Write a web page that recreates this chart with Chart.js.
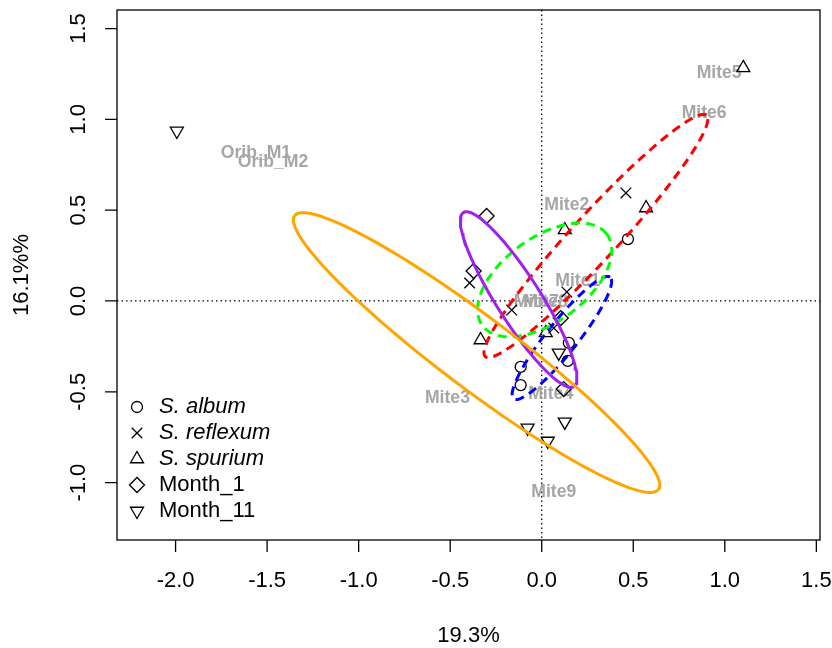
<!DOCTYPE html>
<html>
<head>
<meta charset="utf-8">
<script src="https://cdn.jsdelivr.net/npm/chart.js@4.4.0/dist/chart.umd.min.js"></script>
<style>
  html, body { margin: 0; padding: 0; background: #fff; }
</style>
</head>
<body>
<canvas id="ordChart" width="832" height="648"></canvas>
<script>
// site scores (axis 1 / axis 2) per group
const albumX = [0.471, 0.148, 0.142, -0.115, -0.115];
const albumY = [0.341, -0.231, -0.330, -0.363, -0.463];
const reflexumX = [0.460, -0.394, -0.164, 0.137, 0.066];
const reflexumY = [0.595, 0.099, -0.050, 0.050, -0.149];
const spuriumX = [1.101, 0.570, 0.126, -0.334, 0.022];
const spuriumY = [1.283, 0.512, 0.391, -0.215, -0.176];
const month1X = [-0.301, -0.372, 0.104, 0.120];
const month1Y = [0.468, 0.165, -0.094, -0.485];
const month11X = [-1.993, 0.093, -0.077, 0.033, 0.126];
const month11Y = [0.936, -0.286, -0.699, -0.771, -0.666];

// species (mite) scores, drawn as text
const miteNames = ['Mite1', 'Mite2', 'Mite3', 'Mite4', 'Mite5', 'Mite6', 'Mite7', 'Mite8', 'Mite9', 'Orib_M1', 'Orib_M2'];
const miteX = [0.197, 0.137, -0.515, 0.049, 0.969, 0.887, -0.030, 0.020, 0.066, -1.561, -1.468];
const miteY = [0.110, 0.529, -0.534, -0.512, 1.256, 1.035, -0.006, -0.006, -1.052, 0.815, 0.765];

// group ellipses: centre, semi axes, rotation (degrees)
const ellCx = [-0.356, -0.126, 0.016, 0.296, 0.110];
const ellCy = [-0.284, 0.008, 0.116, 0.358, -0.204];
const ellA = [1.247, 0.566, 0.423, 0.898, 0.426];
const ellB = [0.198, 0.121, 0.231, 0.126, 0.085];
const ellAngle = [-37.2, -57.8, 36.6, 47.7, 51.8];
const ellColor = ['#FFA500', '#A020F0', '#00FF00', '#FF0000', '#0000FF'];
const ellDashed = [false, false, true, true, true];

const xTicks = [-2.0, -1.5, -1.0, -0.5, 0.0, 0.5, 1.0, 1.5];
const yTicks = [-1.0, -0.5, 0.0, 0.5, 1.0, 1.5];
const legendLabels = ['S. album', 'S. reflexum', 'S. spurium', 'Month_1', 'Month_11'];
const legendItalic = [true, true, true, false, false];

const FONT = '"Liberation Sans", Arial, sans-serif';

function pts(xs, ys) {
  return xs.map((v, i) => ({ x: v, y: ys[i] }));
}

function ellipsePath(i) {
  const out = [];
  const t = ellAngle[i] * Math.PI / 180;
  for (let k = 0; k <= 120; k++) {
    const a = k / 120 * Math.PI * 2;
    const u = ellA[i] * Math.cos(a), v = ellB[i] * Math.sin(a);
    out.push({ x: ellCx[i] + u * Math.cos(t) - v * Math.sin(t),
               y: ellCy[i] + u * Math.sin(t) + v * Math.cos(t) });
  }
  return out;
}

const pointSets = [
  { data: pts(albumX, albumY), pointStyle: 'circle', radius: 5.5, rotation: 0 },
  { data: pts(reflexumX, reflexumY), pointStyle: 'crossRot', radius: 7.5, rotation: 0 },
  { data: pts(spuriumX, spuriumY), pointStyle: 'triangle', radius: 7.5, rotation: 0 },
  { data: pts(month1X, month1Y), pointStyle: 'rectRot', radius: 7.5, rotation: 0 },
  { data: pts(month11X, month11Y), pointStyle: 'triangle', radius: 7.5, rotation: 180 }
].map(s => ({
  type: 'scatter', data: s.data, showLine: false, order: 2,
  pointStyle: s.pointStyle, pointRadius: s.radius, pointRotation: s.rotation,
  pointBorderColor: '#000', pointBackgroundColor: 'rgba(0,0,0,0)', pointBorderWidth: 1.3
}));

const ellipseSets = ellCx.map((c, i) => ({
  type: 'scatter', data: ellipsePath(i), showLine: true, order: 1,
  borderColor: ellColor[i], borderWidth: 3, borderDash: ellDashed[i] ? [9, 6] : [],
  pointRadius: 0, fill: false, tension: 0
}));

function drawSymbol(ctx, kind, x, y) {
  ctx.beginPath();
  if (kind === 0) {
    ctx.arc(x, y, 5.5, 0, Math.PI * 2);
  } else if (kind === 1) {
    const d = 5.3;
    ctx.moveTo(x - d, y - d); ctx.lineTo(x + d, y + d);
    ctx.moveTo(x + d, y - d); ctx.lineTo(x - d, y + d);
  } else if (kind === 2 || kind === 4) {
    const s = kind === 2 ? 1 : -1, r = 7.5;
    ctx.moveTo(x, y - s * r);
    ctx.lineTo(x + r * 0.866, y + s * r * 0.5);
    ctx.lineTo(x - r * 0.866, y + s * r * 0.5);
    ctx.closePath();
  } else {
    const r = 7.5;
    ctx.moveTo(x - r, y); ctx.lineTo(x, y - r); ctx.lineTo(x + r, y); ctx.lineTo(x, y + r);
    ctx.closePath();
  }
  ctx.stroke();
}

const rPlot = {
  id: 'rPlot',
  beforeDatasetsDraw(chart) {
    const { ctx, chartArea: ca, scales: { x, y } } = chart;
    ctx.save();
    ctx.strokeStyle = '#000';
    ctx.lineWidth = 1.3;
    ctx.setLineDash([1.5, 3]);
    const x0 = x.getPixelForValue(0), y0 = y.getPixelForValue(0);
    ctx.beginPath();
    ctx.moveTo(x0, ca.top); ctx.lineTo(x0, ca.bottom);
    ctx.moveTo(ca.left, y0); ctx.lineTo(ca.right, y0);
    ctx.stroke();
    ctx.setLineDash([]);

    ctx.fillStyle = '#a6a6a6';
    ctx.font = 'bold 17.6px ' + FONT;
    ctx.textAlign = 'center';
    ctx.textBaseline = 'middle';
    miteNames.forEach((n, i) => {
      ctx.fillText(n, x.getPixelForValue(miteX[i]), y.getPixelForValue(miteY[i]));
    });
    ctx.restore();
  },
  afterDraw(chart) {
    const { ctx, chartArea: ca, scales: { x, y } } = chart;
    ctx.save();
    ctx.strokeStyle = '#000';
    ctx.fillStyle = '#000';
    ctx.lineWidth = 1.3;
    ctx.strokeRect(ca.left, ca.top, ca.right - ca.left, ca.bottom - ca.top);

    ctx.font = '22px ' + FONT;
    ctx.textAlign = 'center';
    ctx.textBaseline = 'middle';
    ctx.beginPath();
    xTicks.forEach(v => {
      const px = x.getPixelForValue(v);
      ctx.moveTo(px, ca.bottom); ctx.lineTo(px, ca.bottom + 12);
      ctx.fillText(v.toFixed(1), px, 581);
    });
    yTicks.forEach(v => {
      const py = y.getPixelForValue(v);
      ctx.moveTo(ca.left, py); ctx.lineTo(ca.left - 12, py);
    });
    ctx.stroke();
    yTicks.forEach(v => {
      const py = y.getPixelForValue(v);
      ctx.save();
      ctx.translate(79, py);
      ctx.rotate(-Math.PI / 2);
      ctx.fillText(v.toFixed(1), 0, 0);
      ctx.restore();
    });

    // axis titles
    ctx.fillText('19.3%', (ca.left + ca.right) / 2, 636);
    ctx.save();
    ctx.translate(22, (ca.top + ca.bottom) / 2);
    ctx.rotate(-Math.PI / 2);
    ctx.fillText('16.1%%', 0, 0);
    ctx.restore();

    // legend
    ctx.textAlign = 'left';
    ctx.lineWidth = 1.3;
    legendLabels.forEach((lab, i) => {
      const ly = 407 + i * 26;
      drawSymbol(ctx, i, 137, ly);
      ctx.font = (legendItalic[i] ? 'italic ' : '') + '22px ' + FONT;
      ctx.fillText(lab, 159, ly);
    });
    ctx.restore();
  }
};

new Chart(document.getElementById('ordChart'), {
  type: 'scatter',
  data: { datasets: ellipseSets.concat(pointSets) },
  options: {
    responsive: false,
    devicePixelRatio: 1,
    animation: false,
    layout: { padding: { left: 117, right: 12, top: 10, bottom: 108 } },
    plugins: { legend: { display: false }, tooltip: { enabled: false } },
    scales: {
      x: { type: 'linear', min: -2.32, max: 1.52, display: false },
      y: { type: 'linear', min: -1.316, max: 1.602, display: false }
    }
  },
  plugins: [rPlot]
});
</script>
</body>
</html>
